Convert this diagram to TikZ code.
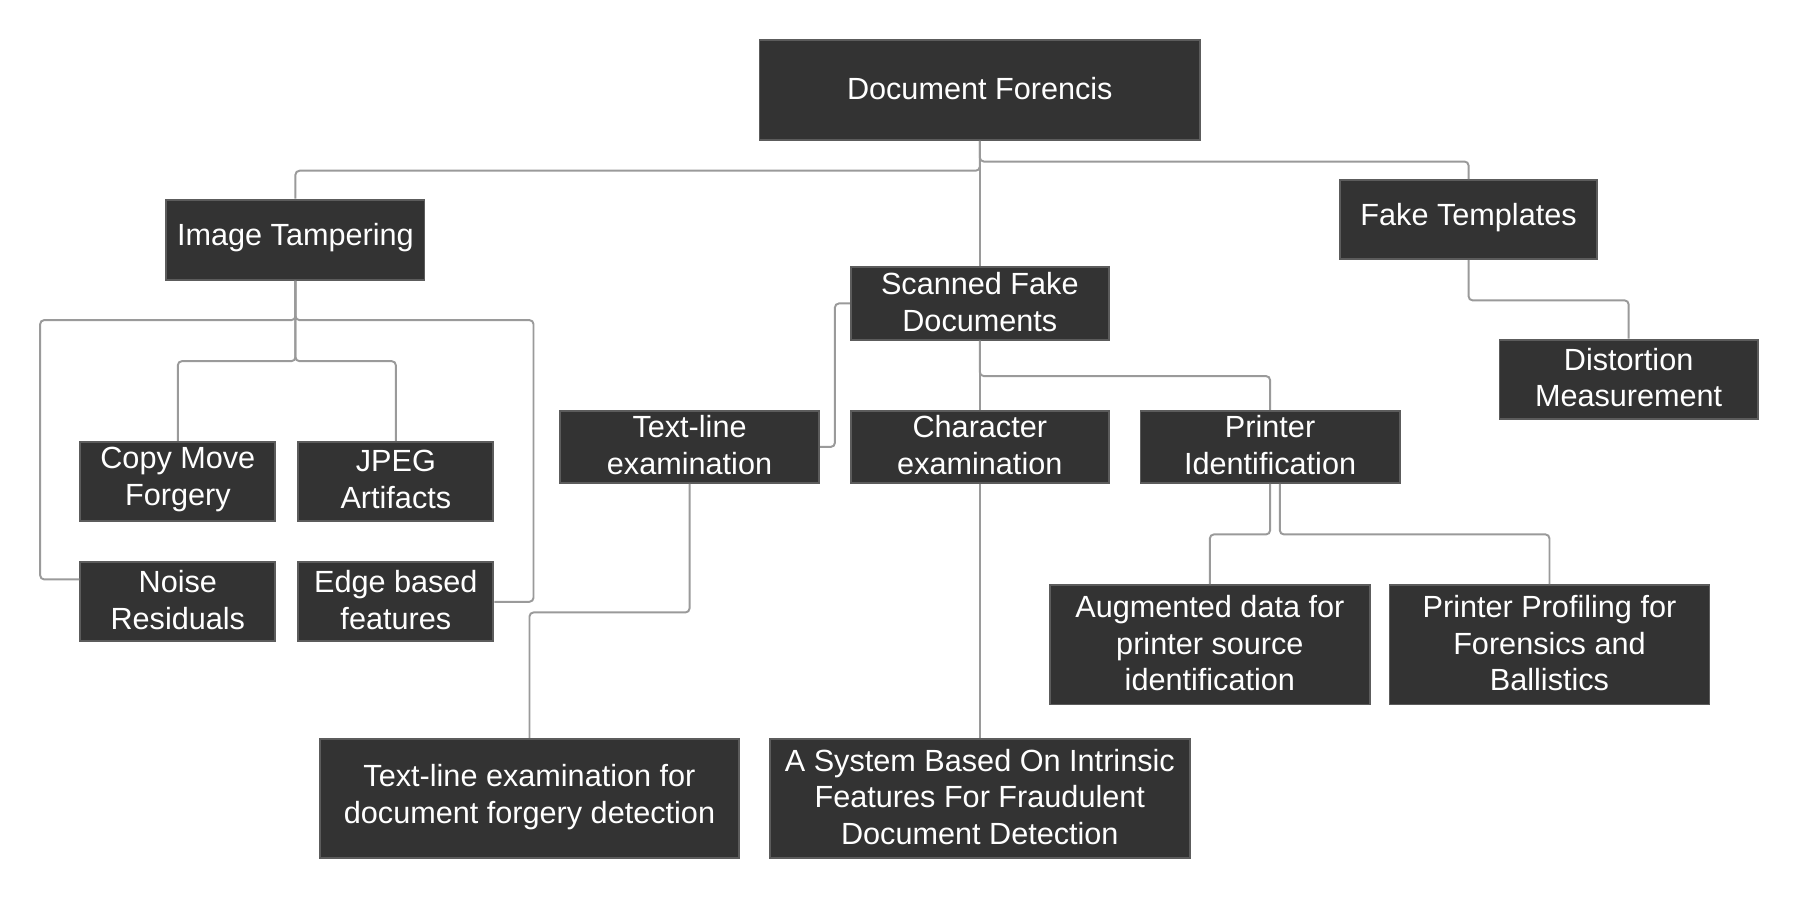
\documentclass[tikz,border=0pt]{standalone}
\usepackage{fontspec}
\setmainfont{Liberation Sans}
\definecolor{boxfill}{HTML}{333333}
\definecolor{boxline}{HTML}{5C5C5C}
\definecolor{conn}{HTML}{9A9A9A}
\tikzset{
  box/.style={draw=boxline, fill=boxfill, line width=1.6pt, inner sep=0pt},
  boxtext/.style={text=white, inner sep=0pt, align=center, font=\fontsize{26.7}{32}\selectfont},
  conline/.style={draw=conn, line width=1.7pt, rounded corners=3.5pt}
}
\newcommand{\bx}[6]{% name, x1, y1, x2, y2, text
  \node[box, minimum width={#4-#2}, minimum height={#5-#3}] (#1) at ({(#2+#4)/2},{(#3+#5)/2}) {};
  \node[boxtext] (#1-t) at ([yshift=1.5pt]#1.center) {#6};}
\begin{document}
\begin{tikzpicture}[x=1pt,y=-1pt]
\useasboundingbox (0,0) rectangle (1568,784);
\bx{doc}{662}{35}{1046}{122}{Document Forencis}
\bx{imgt}{145}{174}{370}{244}{Image Tampering}
\bx{fake}{1168}{157}{1392}{226}{Fake Templates}
\bx{scan}{741.5}{233}{966.5}{296}{Scanned Fake\\Documents}
\bx{dist}{1307}{296}{1532}{365}{Distortion\\Measurement}
\bx{tl}{488}{358}{714}{421}{Text-line\\examination}
\bx{char}{741.5}{358}{966.5}{421}{Character\\examination}
\bx{prn}{994}{358}{1220}{421}{Printer\\Identification}
\bx{copy}{70}{385}{240}{454}{Copy Move\\Forgery}
\bx{jpeg}{260}{385}{430}{454}{JPEG\\Artifacts}
\bx{noise}{70}{490}{240}{559}{Noise\\Residuals}
\bx{edge}{260}{490}{430}{559}{Edge based\\features}
\bx{aug}{915}{510}{1194}{614}{Augmented data for\\printer source\\identification}
\bx{prof}{1211}{510}{1490}{614}{Printer Profiling for\\Forensics and\\Ballistics}
\bx{tlf}{279}{644}{644}{748}{Text-line examination for\\document forgery detection}
\bx{sys}{671}{644}{1037}{748}{A System Based On Intrinsic\\Features For Fraudulent\\Document Detection}

\draw[conline] (doc.south) -- ++(0,26) -| (imgt.north);
\draw[conline] (doc.south) -- ++(0,18) -| (fake.north);
\draw[conline] (doc.south) -- (scan.north);
\draw[conline] (imgt.south) |- (35,279) |- ([yshift=19.5pt]noise.west);
\draw[conline] (imgt.south) |- (465,279) |- (edge.east);
\draw[conline] (imgt.south) -- ++(0,70) -| (copy.north);
\draw[conline] (imgt.south) -- ++(0,70) -| (jpeg.north);
\draw[conline] (fake.south) -- ++(0,35) -| (dist.north);
\draw[conline] (scan.west) -- ++(-13,0) |- (tl.east);
\draw[conline] (scan.south) -- (char.north);
\draw[conline] (scan.south) -- ++(0,31) -| (prn.north);
\draw[conline] (char.south) -- (sys.north);
\draw[conline] (tl.south) -- ++(0,112) -| (tlf.north);
\draw[conline] (prn.south) -- ++(0,44) -| (aug.north);
\draw[conline] ([xshift=8.5pt]prn.south) -- ++(0,44) -| (prof.north);
\end{tikzpicture}
\end{document}
